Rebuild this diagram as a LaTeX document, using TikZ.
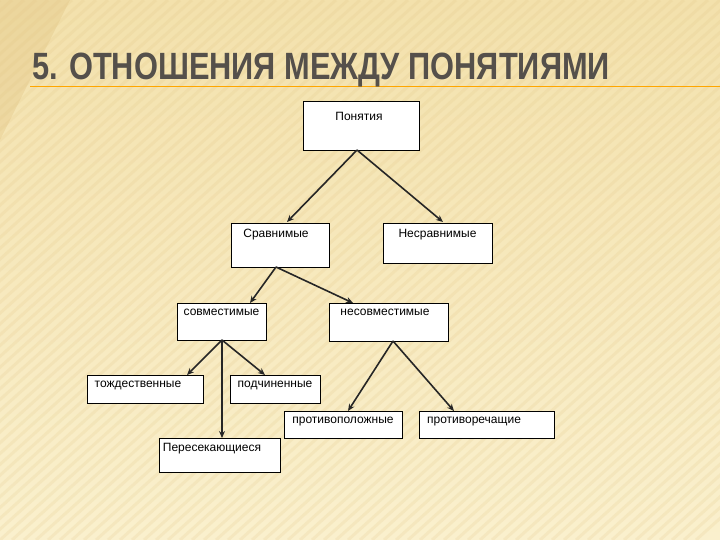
\documentclass[tikz,border=0pt]{standalone}
\usepackage{fontspec}
\setmainfont{Liberation Sans}
\usetikzlibrary{arrows.meta}
\definecolor{bgA}{RGB}{243,225,172}
\definecolor{bgB}{RGB}{250,240,205}
\definecolor{stripe}{RGB}{225,195,130}
\definecolor{titlec}{RGB}{85,80,75}
\begin{document}
\begin{tikzpicture}[x=1pt,y=-1pt,
  box/.style={draw=black,line width=0.9pt,fill=white,inner sep=0pt},
  txt/.style={font=\fontsize{12}{14}\selectfont,inner sep=0pt,anchor=north},
  arr/.style={draw=black!85,line width=1.6pt,-{Stealth[length=7pt,width=6pt]}}]
\useasboundingbox (0,0) rectangle (720,540);
\shade[top color=bgA, bottom color=bgB] (0,0) rectangle (720,540);
\fill[stripe,opacity=0.35] (0,0) -- (0,140) -- (70,0) -- cycle;
\foreach \i in {0,12,...,1300}{\draw[stripe,opacity=0.18,line width=3pt] (\i-600,540) -- (\i,0);}
\draw[orange!70!yellow,line width=0.8pt] (30,86) -- (720,86);
\node[anchor=south west,inner sep=0pt,text=titlec,font=\fontsize{38}{40}\selectfont\bfseries,xscale=0.81] (title) at (32,87) {5. ОТНОШЕНИЯ МЕЖДУ ПОНЯТИЯМИ};
\node[box,minimum width=116,minimum height=49] (p) at (361,125.5) {};
\node[txt] at (359,112) {Понятия};
\node[box,minimum width=98,minimum height=44] (s) at (280,245) {};
\node[txt] at (276,229) {Сравнимые};
\node[box,minimum width=109,minimum height=40] (n) at (437.5,243) {};
\node[txt] at (437.5,229) {Несравнимые};
\node[box,minimum width=89,minimum height=37] (c) at (221.5,321.5) {};
\node[txt] at (221.5,309) {совместимые};
\node[box,minimum width=119,minimum height=38] (nc) at (388.5,322) {};
\node[txt] at (385,309) {несовместимые};
\node[box,minimum width=116,minimum height=28] (t) at (145,389) {};
\node[txt] at (138,381) {тождественные};
\node[box,minimum width=90,minimum height=28] (sub) at (275,389) {};
\node[txt] at (275,381) {подчиненные};
\node[box,minimum width=118,minimum height=27] (op) at (343,424.5) {};
\node[txt] at (343,417) {противоположные};
\node[box,minimum width=135,minimum height=27] (cd) at (486.5,424.5) {};
\node[txt] at (474,417) {противоречащие};
\node[box,minimum width=121,minimum height=34] (x) at (219.5,455) {};
\node[txt] at (212,443) {Пересекающиеся};
\coordinate (pb) at (357,150);
\coordinate (sb) at (276,267);
\coordinate (cb) at (222,340);
\coordinate (nb) at (393,341);
\draw[arr] (pb) -- (287,222);
\draw[arr] (pb) -- (443,222);
\draw[arr] (sb) -- (250,303);
\draw[arr] (sb) -- (353,303);
\draw[arr] (cb) -- (187,375);
\draw[arr] (cb) -- (265,375);
\draw[arr] (cb) -- (222,438);
\draw[arr] (nb) -- (348,411);
\draw[arr] (nb) -- (454,411);
\end{tikzpicture}
\end{document}
